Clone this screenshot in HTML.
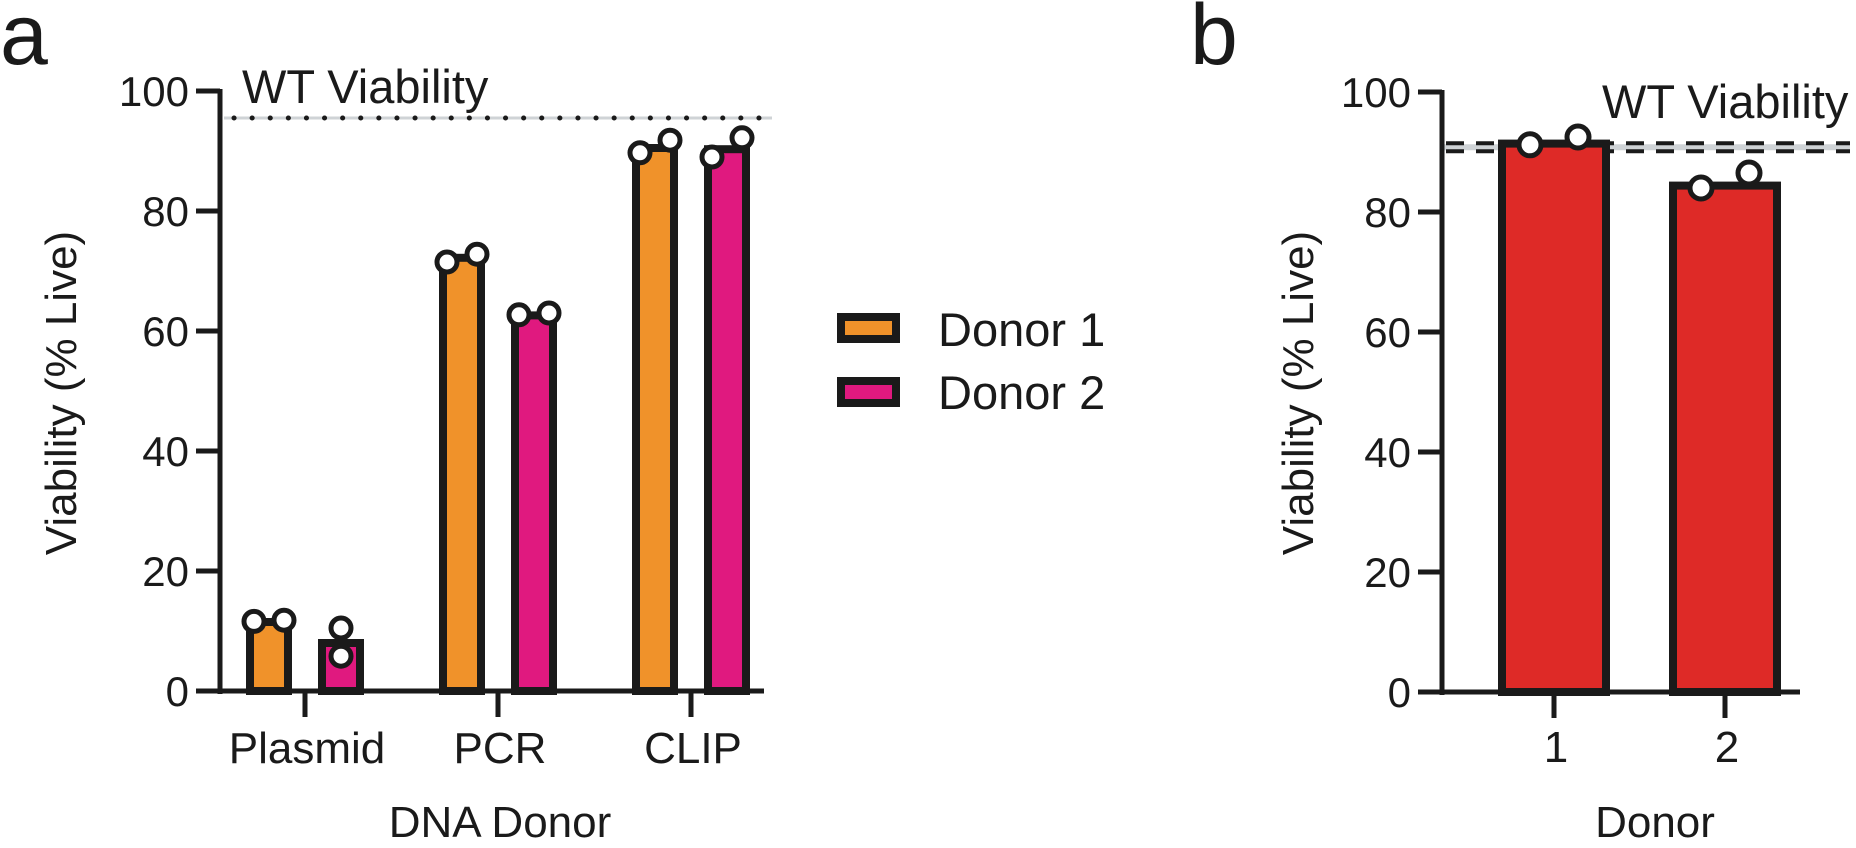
<!DOCTYPE html>
<html><head><meta charset="utf-8">
<style>
html,body{margin:0;padding:0;background:#fff;}
svg{display:block;font-family:"Liberation Sans",Arial,sans-serif;}
</style></head>
<body>
<svg id="fig" width="1856" height="848" viewBox="0 0 1856 848">
  <text x="0" y="64" font-size="86" fill="#1a1a1a">a</text>
  <text x="1190" y="64" font-size="86" fill="#1a1a1a">b</text>
  <g id="pa"></g>
  <g id="pb"></g>
  <g id="legend">
    <g>
      <rect x="841" y="317" width="55" height="22" fill="#f0922a" stroke="#1a1a1a" stroke-width="8"/>
      <text x="938" y="346" font-size="47" fill="#1a1a1a">Donor 1</text>
    </g>
    <g>
      <rect x="841" y="381" width="55" height="22" fill="#e0197f" stroke="#1a1a1a" stroke-width="8"/>
      <text x="938" y="409" font-size="47" fill="#1a1a1a">Donor 2</text>
    </g>
  </g>
</svg>
<script>
// Panel a data
const aCategories = ["Plasmid", "PCR", "CLIP"];
const aDonor1Means = [11.5, 72.2, 90.5];
const aDonor2Means = [8.0, 62.6, 90.3];
const aDonor1Points = [[11.6, 11.8], [71.5, 72.8], [89.7, 91.8]];
const aDonor2Points = [[10.5, 5.8], [62.7, 63.0], [89.0, 92.2]];
const aWT = 95.5;
// Panel b data
const bCategories = ["1", "2"];
const bMeans = [91.4, 84.4];
const bPoints = [[91.2, 92.5], [84.0, 86.5]];
const bWT = 90.8;
const yTicks = [0, 20, 40, 60, 80, 100];

// style: horizontal scatter spread per point (px)
const SPREAD_A = 15, SPREAD_B = 24;

const NS = "http://www.w3.org/2000/svg";
function mk(parent, tag, attrs) {
  const e = document.createElementNS(NS, tag);
  for (const k in attrs) e.setAttribute(k, attrs[k]);
  parent.appendChild(e);
  return e;
}
const INK = "#1a1a1a";

function yA(v) { return 691 - v * 6.0; }
function yB(v) { return 692 - v * 6.0; }

// points far apart vertically stack at centre; close ones spread sideways
function jitter(pts, j, spread) {
  if (Math.abs(pts[0] - pts[1]) > 4) return 0;
  return j ? spread : -spread;
}

function yAxis(g, x0, yf, prefix) {
  const ax = mk(g, "line", {x1: x0, y1: yf(100) - 2, x2: x0, y2: yf(0) + 3, stroke: INK, "stroke-width": 5});
  
  
  yTicks.forEach(t => {
    const tk = mk(g, "line", {x1: x0 - 24, y1: yf(t), x2: x0, y2: yf(t), stroke: INK, "stroke-width": 5});
    
    
    const lb = mk(g, "text", {x: x0 - 31, y: yf(t) + 15, "font-size": 42, "text-anchor": "end", fill: INK});
    lb.textContent = t;
    
    
  });
}

function bar(g, cx, w, v, yf, color, name) {
  const r = mk(g, "rect", {x: cx - w / 2, y: yf(v), width: w, height: yf(0) - yf(v), fill: color, stroke: INK, "stroke-width": 8});
  
  
}
function pt(g, cx, v, yf, rad, name) {
  const c = mk(g, "circle", {cx: cx, cy: yf(v), r: rad, fill: "#fff", stroke: INK, "stroke-width": 5});
  
  
}

// ---- Panel A ----
const pa = document.getElementById("pa");
const aX0 = 220, aStep = 193, aFirst = 305, aOff = 36, aW = 38;
const wtBgA = mk(pa, "line", {x1: aX0 + 4, y1: yA(aWT), x2: 772, y2: yA(aWT), stroke: "#cfd3d6", "stroke-width": 3});


const wtA = mk(pa, "line", {x1: aX0 + 14, y1: yA(aWT), x2: 772, y2: yA(aWT), stroke: INK, "stroke-width": 5, "stroke-dasharray": "0.1 18", "stroke-linecap": "round"});


const wtTA = mk(pa, "text", {x: 242, y: 103, "font-size": 47, fill: INK});
wtTA.textContent = "WT Viability";



aCategories.forEach((c, i) => {
  const cx = aFirst + i * aStep;
  bar(pa, cx - aOff, aW, aDonor1Means[i], yA, "#f0922a", "bar-donor1-" + c.toLowerCase());
  bar(pa, cx + aOff, aW, aDonor2Means[i], yA, "#e0197f", "bar-donor2-" + c.toLowerCase());
  aDonor1Points[i].forEach((v, j) => pt(pa, cx - aOff + jitter(aDonor1Points[i], j, SPREAD_A), v, yA, 10, "point-donor1-" + c.toLowerCase()));
  aDonor2Points[i].forEach((v, j) => pt(pa, cx + aOff + jitter(aDonor2Points[i], j, SPREAD_A), v, yA, 10, "point-donor2-" + c.toLowerCase()));
  const tk = mk(pa, "line", {x1: cx, y1: yA(0), x2: cx, y2: yA(0) + 26, stroke: INK, "stroke-width": 5});
  
  
  const lb = mk(pa, "text", {x: cx + 2, y: 763, "font-size": 44, "text-anchor": "middle", fill: INK});
  lb.textContent = c;
  
  
});
const xaxA = mk(pa, "line", {x1: aX0 - 3, y1: yA(0), x2: 764, y2: yA(0), stroke: INK, "stroke-width": 5});


yAxis(pa, aX0, yA, "panel-a");
const xtA = mk(pa, "text", {x: 500, y: 837, "font-size": 44, "text-anchor": "middle", fill: INK});
xtA.textContent = "DNA Donor";


const ytA = mk(pa, "text", {x: 0, y: 0, "font-size": 44, "text-anchor": "middle", fill: INK, transform: "translate(76,393) rotate(-90)"});
ytA.textContent = "Viability (% Live)";



// ---- Panel B ----
const pb = document.getElementById("pb");
const bX0 = 1442, bFirst = 1554, bStep = 171, bW = 104;
const wtBgB = mk(pb, "line", {x1: bX0, y1: yB(bWT), x2: 1850, y2: yB(bWT), stroke: "#cfd3d6", "stroke-width": 6});


[-4, 4].forEach(d => {
  const l = mk(pb, "line", {x1: bX0 + 4, y1: yB(bWT) + d, x2: 1850, y2: yB(bWT) + d, stroke: INK, "stroke-width": 4, "stroke-dasharray": "18 12"});
  
  
});
const wtTB = mk(pb, "text", {x: 1602, y: 118, "font-size": 47, fill: INK});
wtTB.textContent = "WT Viability";


bCategories.forEach((c, i) => {
  const cx = bFirst + i * bStep;
  bar(pb, cx, bW, bMeans[i], yB, "#de2a27", "bar-donor-" + c);
  bPoints[i].forEach((v, j) => pt(pb, cx + (j ? SPREAD_B : -SPREAD_B), v, yB, 11, "point-donor-" + c));
  const tk = mk(pb, "line", {x1: cx, y1: yB(0), x2: cx, y2: yB(0) + 26, stroke: INK, "stroke-width": 5});
  
  
  const lb = mk(pb, "text", {x: cx + 2, y: 762, "font-size": 44, "text-anchor": "middle", fill: INK});
  lb.textContent = c;
  
  
});
const xaxB = mk(pb, "line", {x1: bX0 - 3, y1: yB(0), x2: 1800, y2: yB(0), stroke: INK, "stroke-width": 5});


yAxis(pb, bX0, yB, "panel-b");
const xtB = mk(pb, "text", {x: 1655, y: 837, "font-size": 44, "text-anchor": "middle", fill: INK});
xtB.textContent = "Donor";


const ytB = mk(pb, "text", {x: 0, y: 0, "font-size": 44, "text-anchor": "middle", fill: INK, transform: "translate(1313,393) rotate(-90)"});
ytB.textContent = "Viability (% Live)";


</script>
</body></html>
